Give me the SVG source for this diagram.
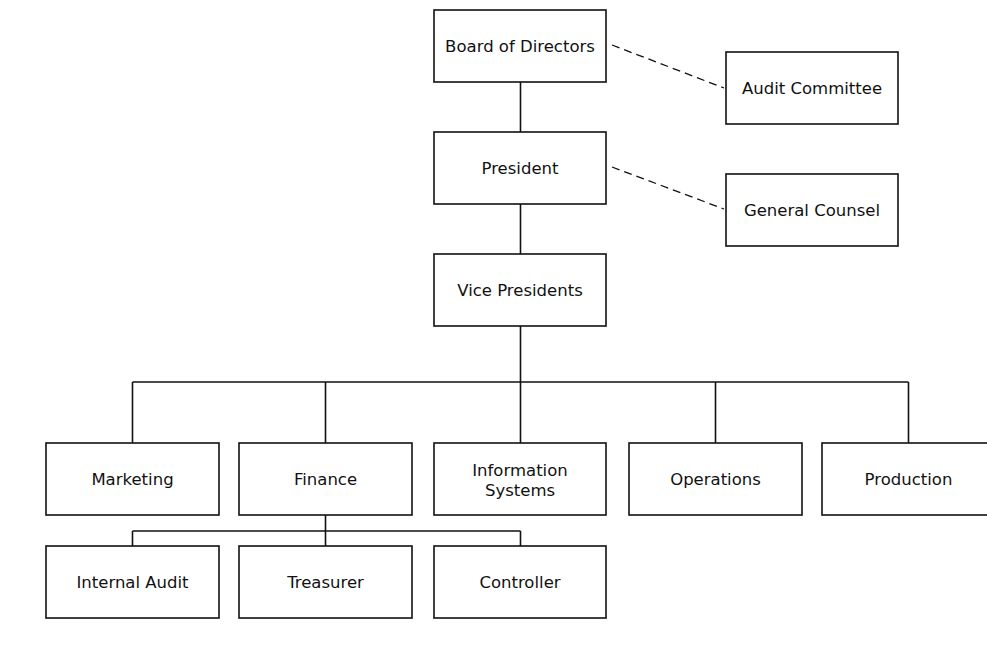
<svg xmlns="http://www.w3.org/2000/svg" width="987" height="651" viewBox="0 0 987 651">
<style>
.box{fill:#fff;stroke:#111;stroke-width:1.6}
.t{font-family:"DejaVu Sans",sans-serif;font-size:16.5px;fill:#111;text-anchor:middle}
.c{fill:none;stroke:#111;stroke-width:1.6}
.d{fill:none;stroke:#111;stroke-width:1.3;stroke-dasharray:8 5}
</style>
<rect width="987" height="651" fill="#fff"/>
<g id="connectors">
<path class="c" d="M520.5 82V132M520.5 204V254M520.5 326V443M132.5 382H908.5M132.5 382V443M325.5 382V443M715.5 382V443M908.5 382V443M325.5 515V546M132.5 531H520.5M132.5 531V546M520.5 531V546"/>
<path class="d" d="M612 45L724 88M612 167L724 209"/>
</g>
<g id="board"><rect class="box" x="434" y="10" width="172" height="72"/><text class="t" x="520" y="52">Board of Directors</text></g>
<g id="audit-committee"><rect class="box" x="726" y="52" width="172" height="72"/><text class="t" x="812" y="94">Audit Committee</text></g>
<g id="president"><rect class="box" x="434" y="132" width="172" height="72"/><text class="t" x="520" y="174">President</text></g>
<g id="general-counsel"><rect class="box" x="726" y="174" width="172" height="72"/><text class="t" x="812" y="216">General Counsel</text></g>
<g id="vice-presidents"><rect class="box" x="434" y="254" width="172" height="72"/><text class="t" x="520" y="296">Vice Presidents</text></g>
<g id="marketing"><rect class="box" x="46" y="443" width="173" height="72"/><text class="t" x="132.5" y="485">Marketing</text></g>
<g id="finance"><rect class="box" x="239" y="443" width="173" height="72"/><text class="t" x="325.5" y="485">Finance</text></g>
<g id="information-systems"><rect class="box" x="434" y="443" width="172" height="72"/><text class="t" x="520" y="476">Information</text><text class="t" x="520" y="496">Systems</text></g>
<g id="operations"><rect class="box" x="629" y="443" width="173" height="72"/><text class="t" x="715.5" y="485">Operations</text></g>
<g id="production"><rect class="box" x="822" y="443" width="173" height="72"/><text class="t" x="908.5" y="485">Production</text></g>
<g id="internal-audit"><rect class="box" x="46" y="546" width="173" height="72"/><text class="t" x="132.5" y="588">Internal Audit</text></g>
<g id="treasurer"><rect class="box" x="239" y="546" width="173" height="72"/><text class="t" x="325.5" y="588">Treasurer</text></g>
<g id="controller"><rect class="box" x="434" y="546" width="172" height="72"/><text class="t" x="520" y="588">Controller</text></g>
</svg>
